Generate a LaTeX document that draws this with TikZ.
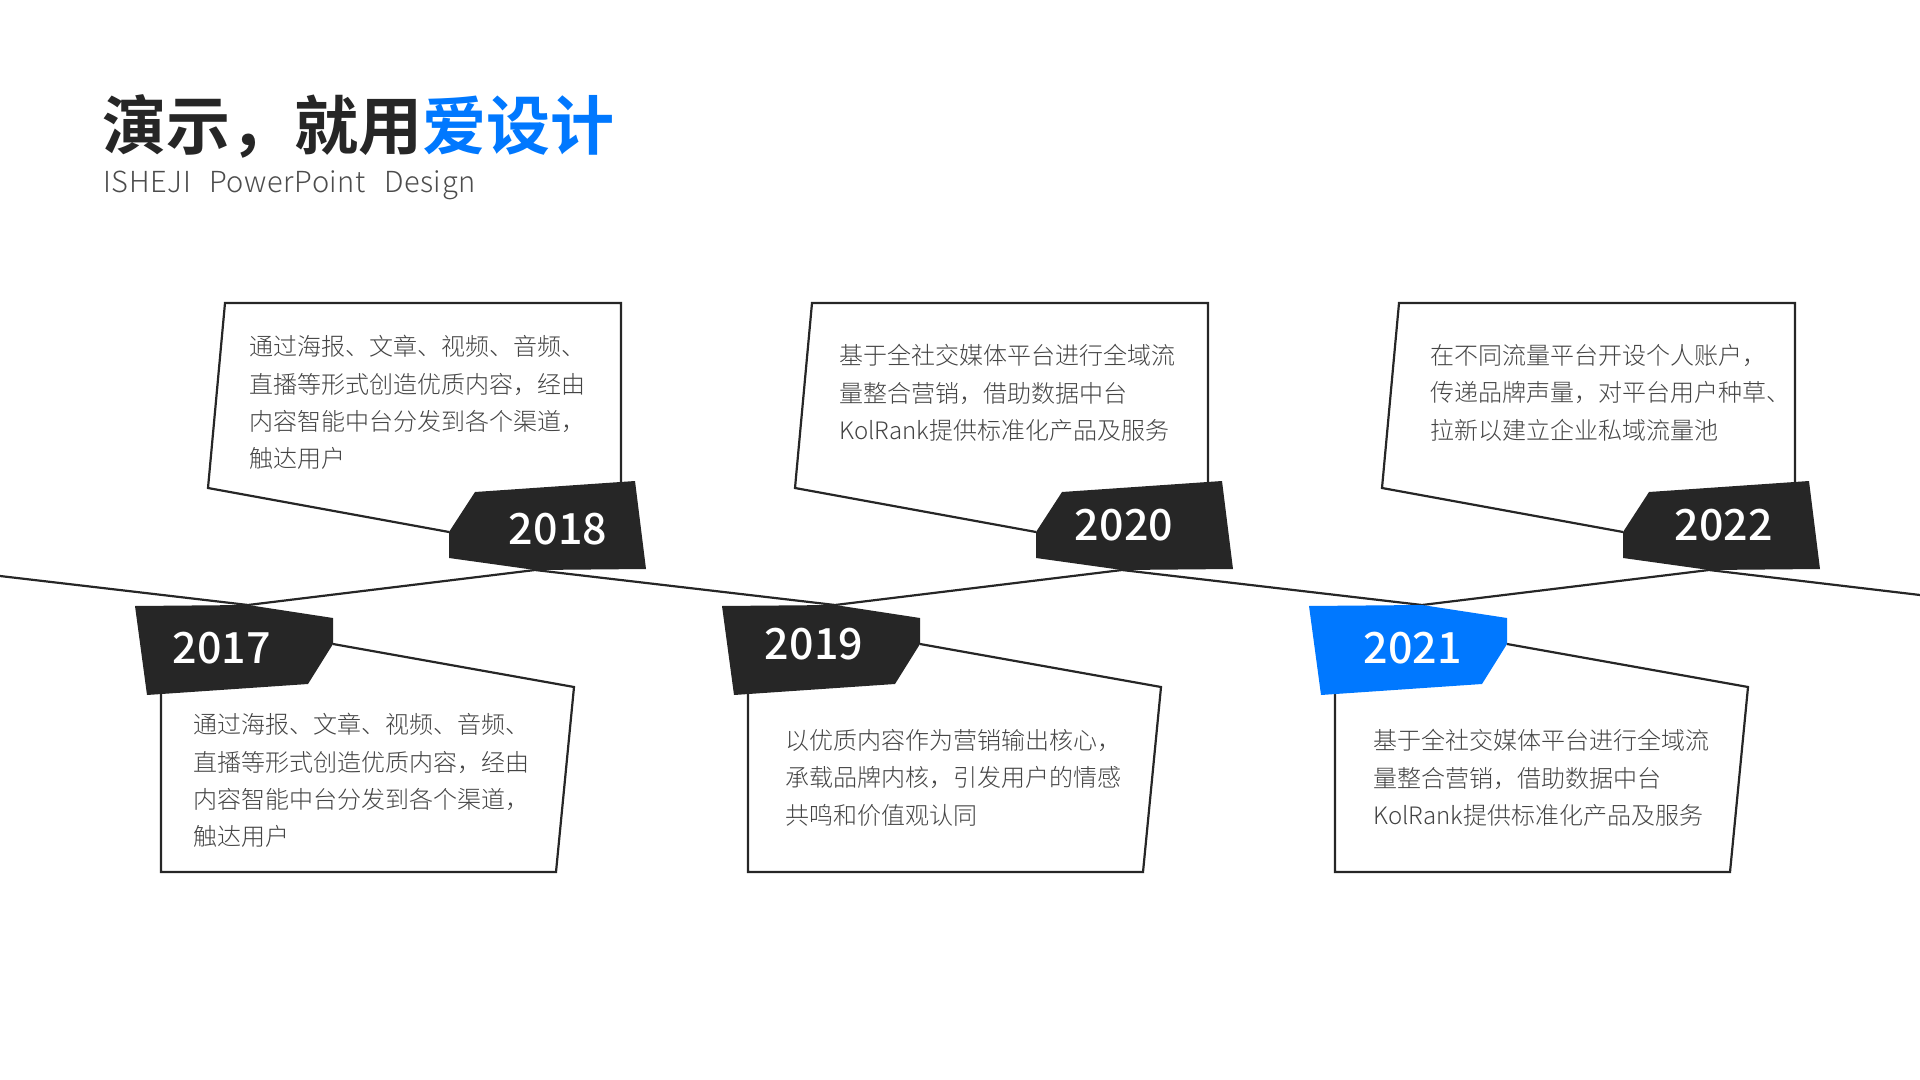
\documentclass[tikz,border=0pt]{standalone}
\usepackage{fontspec}
\setmainfont{Noto Sans CJK SC}
\newfontfamily\titlefont{Noto Sans CJK SC Bold}
\newfontfamily\bodyfont{Noto Sans CJK SC Light}
\newfontfamily\yearfont{Noto Sans CJK SC Medium}
\newfontfamily\subfont{Noto Sans CJK SC Light}[LetterSpace=2, WordSpace=2.6]
\definecolor{ink}{HTML}{262626}
\definecolor{isblue}{HTML}{0078FF}
\definecolor{bodygray}{HTML}{444444}
\tikzset{
	card/.style={draw=ink, line width=1.1pt, line join=miter},
	darktag/.style={fill=ink},
	bluetag/.style={fill=isblue},
	yearlabel/.style={text=white, inner sep=0pt, font=\yearfont\fontsize{21.5}{24}\selectfont},
	bodytext/.style={anchor=north west, inner sep=0pt, align=left, text=bodygray, font=\bodyfont\fontsize{12}{18.65}\selectfont}
}

\begin{document}
\begin{tikzpicture}[x=0.5pt, y=-0.5pt]
			\useasboundingbox (0,0) rectangle (1920,1080);
			\coordinate (start) at (0,576);
			\coordinate (p2017) at (248,605);
			\coordinate (p2018) at (535,570);
			\coordinate (p2019) at (835,605);
			\coordinate (p2020) at (1122,570);
			\coordinate (p2021) at (1422,605);
			\coordinate (p2022) at (1709,570);
			\coordinate (finish) at (1920,595);
			\draw[card] (449,532) -- (208,488) -- (225,303) -- (621,303) -- (621,484);
			\draw[card] (1036,532) -- (795,488) -- (812,303) -- (1208,303) -- (1208,484);
			\draw[card] (1623,532) -- (1382,488) -- (1399,303) -- (1795,303) -- (1795,484);
			\draw[card] (333,644) -- (574,687) -- (556,872) -- (161,872) -- (161,692);
			\draw[card] (920,644) -- (1161,687) -- (1143,872) -- (748,872) -- (748,692);
			\draw[card] (1507,644) -- (1748,687) -- (1730,872) -- (1335,872) -- (1335,692);
			\draw[card] (start) -- (p2017) -- (p2018) -- (p2019) -- (p2020) -- (p2021) -- (p2022) -- (finish);
			\fill[darktag] (475,492) -- (635,481) -- (646,569) -- (p2018) -- (449,558) -- (449,532) -- cycle;
			\fill[darktag] (1062,492) -- (1222,481) -- (1233,569) -- (p2020) -- (1036,558) -- (1036,532) -- cycle;
			\fill[darktag] (1649,492) -- (1809,481) -- (1820,569) -- (p2022) -- (1623,558) -- (1623,532) -- cycle;
			\fill[darktag] (135,606) -- (p2017) -- (333,618) -- (333,644) -- (308,684) -- (147,695) -- cycle;
			\fill[darktag] (722,606) -- (p2019) -- (920,618) -- (920,644) -- (895,684) -- (734,695) -- cycle;
			\fill[bluetag] (1309,606) -- (p2021) -- (1507,618) -- (1507,644) -- (1482,684) -- (1321,695) -- cycle;
			\node[yearlabel] (y2017) at (221.6,648) {2017};
			\node[yearlabel] (y2018) at (558,529) {2018};
			\node[yearlabel] (y2019) at (814,644) {2019};
			\node[yearlabel] (y2020) at (1124,525) {2020};
			\node[yearlabel] (y2021) at (1412.5,648) {2021};
			\node[yearlabel] (y2022) at (1723.5,525) {2022};
			\node[bodytext] (t2018) at (249,335) {通过海报、文章、视频、音频、\\直播等形式创造优质内容，经由\\内容智能中台分发到各个渠道，\\触达用户};
			\node[bodytext] (t2017) at (193,713) {通过海报、文章、视频、音频、\\直播等形式创造优质内容，经由\\内容智能中台分发到各个渠道，\\触达用户};
			\node[bodytext] (t2020) at (839,344) {基于全社交媒体平台进行全域流\\量整合营销，借助数据中台\\KolRank提供标准化产品及服务};
			\node[bodytext] (t2019) at (785,729) {以优质内容作为营销输出核心，\\承载品牌内核，引发用户的情感\\共鸣和价值观认同};
			\node[bodytext] (t2022) at (1430,344) {在不同流量平台开设个人账户，\\传递品牌声量，对平台用户种草、\\拉新以建立企业私域流量池};
			\node[bodytext] (t2021) at (1373,729) {基于全社交媒体平台进行全域流\\量整合营销，借助数据中台\\KolRank提供标准化产品及服务};
			\node[anchor=base west, inner sep=0pt, text=ink, font=\titlefont\fontsize{32}{38}\selectfont] (title) at (102,150) {演示，就用\textcolor{isblue}{爱设计}};
			\node[anchor=base west, inner sep=0pt, text=black!70, font=\subfont\fontsize{14.5}{16}\selectfont] (subtitle) at (103,193) {ISHEJI PowerPoint Design};
\end{tikzpicture}
\end{document}
